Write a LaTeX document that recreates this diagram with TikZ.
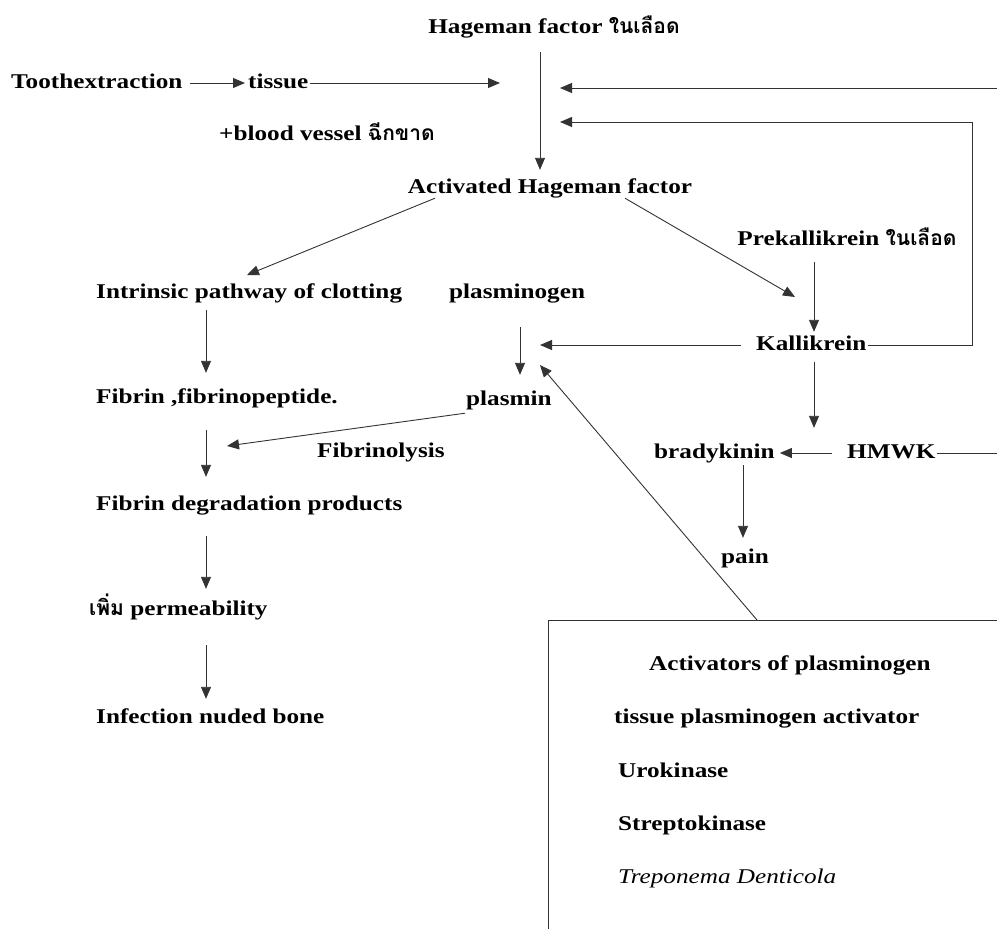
\documentclass[tikz,border=0pt]{standalone}
\usepackage{fontspec}
\setmainfont{Liberation Serif}[FakeStretch=1.2]
\newfontfamily\thai[Script=Thai]{Loma}
\usetikzlibrary{arrows.meta}

\begin{document}
\begin{tikzpicture}[
				x=1pt, y=-1pt,
				lbl/.style={
					inner sep=1pt,
					anchor=west,
					text height=14pt,
					text depth=4pt,
					font=\fontsize{21}{25}\selectfont\bfseries
				},
				arrow/.style={
					-{Triangle[length=12pt,width=10pt]},
					line width=0.9pt,
					draw=black!80
				},
				link/.style={
					line width=0.9pt,
					draw=black!80
				}
			]
			\clip (0,0) rectangle (997,929);
			% Nodes
			\node[lbl, anchor=center] (hageman) at (554,28) {Hageman factor {\thai ในเลือด}};
			\node[lbl] (tooth) at (10,83) {Toothextraction};
			\node[lbl] (tissue) at (247,83) {tissue};
			\node[lbl] (vessel) at (218,135) {+blood vessel {\thai ฉีกขาด}};
			\node[lbl, anchor=center] (activated) at (550,188) {Activated Hageman factor};
			\node[lbl] (intrinsic) at (95,293) {Intrinsic pathway of clotting};
			\node[lbl] (plasminogen) at (448,293) {plasminogen};
			\node[lbl, anchor=center] (prekal) at (847,240) {Prekallikrein {\thai ในเลือด}};
			\node[lbl] (kallikrein) at (755,345) {Kallikrein};
			\node[lbl] (fibrin) at (95,398) {Fibrin ,fibrinopeptide.};
			\node[lbl] (plasmin) at (465,400) {plasmin};
			\node[lbl] (fibrinolysis) at (316,452) {Fibrinolysis};
			\node[lbl] (bradykinin) at (653,453) {bradykinin};
			\node[lbl] (hmwk) at (846,453) {HMWK};
			\node[lbl] (degradation) at (95,505) {Fibrin degradation products};
			\node[lbl] (pain) at (720,558) {pain};
			\node[lbl] (permeab) at (88,610) {{\thai เพิ่ม} permeability};
			\node[lbl] (infection) at (95,718) {Infection nuded bone};

			% Activators box
			\node[draw=black!80, line width=0.9pt, anchor=north west, minimum width=480, minimum height=340] (actbox) at (548,620) {};
			\node[lbl] (acttitle) at (648,665) {Activators of plasminogen};
			\node[lbl] (tpa) at (613,718) {tissue plasminogen activator};
			\node[lbl] (uro) at (617,772) {Urokinase};
			\node[lbl] (strepto) at (617,825) {Streptokinase};
			\node[lbl, font=\fontsize{21}{25}\selectfont\itshape] (trepo) at (617,878) {Treponema Denticola};

			% Free ends
			\coordinate (tissin) at (500,83);
			\coordinate (hagin1) at (560,88);
			\coordinate (hagin2) at (560,122);
			\coordinate (redge) at (997,88);
			\coordinate (loopc) at (972,122);
			\coordinate (intrin) at (247,275);
			\coordinate (kalin) at (795,297);
			\coordinate (plasin1) at (540,345);
			\coordinate (plasin2) at (540,365);
			\coordinate (fibin) at (227,446);
			\coordinate (hmwkr) at (997,448);
			\coordinate (boxtop) at (757,620);
			\coordinate (hx) at (540,0);
			\coordinate (lx) at (206,0);
			\coordinate (px) at (520,0);
			\coordinate (kx) at (814,0);
			\coordinate (bx) at (743,0);

			% Connectors
			\draw[arrow, shorten <=6pt, shorten >=2pt] (tooth) -- (tissue);
			\draw[arrow] (tissue) -- (tissin);
			\draw[arrow, shorten <=14pt, shorten >=8pt] (hageman.south -| hx) -- (activated.north -| hx);
			\draw[arrow] (redge) -- (hagin1);
			\draw[arrow] (kallikrein.east) -| (loopc) -- (hagin2);
			\draw[arrow] ([xshift=-115pt]activated.south) -- (intrin);
			\draw[arrow] ([xshift=75pt]activated.south) -- (kalin);
			\draw[arrow, shorten <=7pt, shorten >=15pt] (intrinsic.south -| lx) -- (fibrin.north -| lx);
			\draw[arrow, shorten <=22pt, shorten >=18pt] (fibrin.south -| lx) -- (degradation.north -| lx);
			\draw[arrow, shorten <=21pt, shorten >=11pt] (degradation.south -| lx) -- (permeab.north -| lx);
			\draw[arrow, shorten <=25pt, shorten >=9pt] (permeab.south -| lx) -- (infection.north -| lx);
			\draw[arrow, shorten <=24pt, shorten >=15pt] (plasminogen.south -| px) -- (plasmin.north -| px);
			\draw[arrow, shorten <=12pt, shorten >=3pt] (prekal.south -| kx) -- (kallikrein.north -| kx);
			\draw[arrow, shorten <=14pt] (kallikrein.west) -- (plasin1);
			\draw[arrow, shorten <=7pt, shorten >=15pt] (kallikrein.south -| kx) -- (bradykinin.north -| kx);
			\draw[arrow, shorten <=14pt, shorten >=4pt] (hmwk.west) -- (bradykinin.east);
			\draw[link] (hmwk.east) -- (hmwk.east -| hmwkr);
			\draw[arrow, shorten <=2pt, shorten >=10pt] (bradykinin.south -| bx) -- (pain.north -| bx);
			\draw[arrow] ([yshift=-3pt]plasmin.south west) -- (fibin);
			\draw[arrow] (boxtop) -- (plasin2);
		\end{tikzpicture}
\end{document}
